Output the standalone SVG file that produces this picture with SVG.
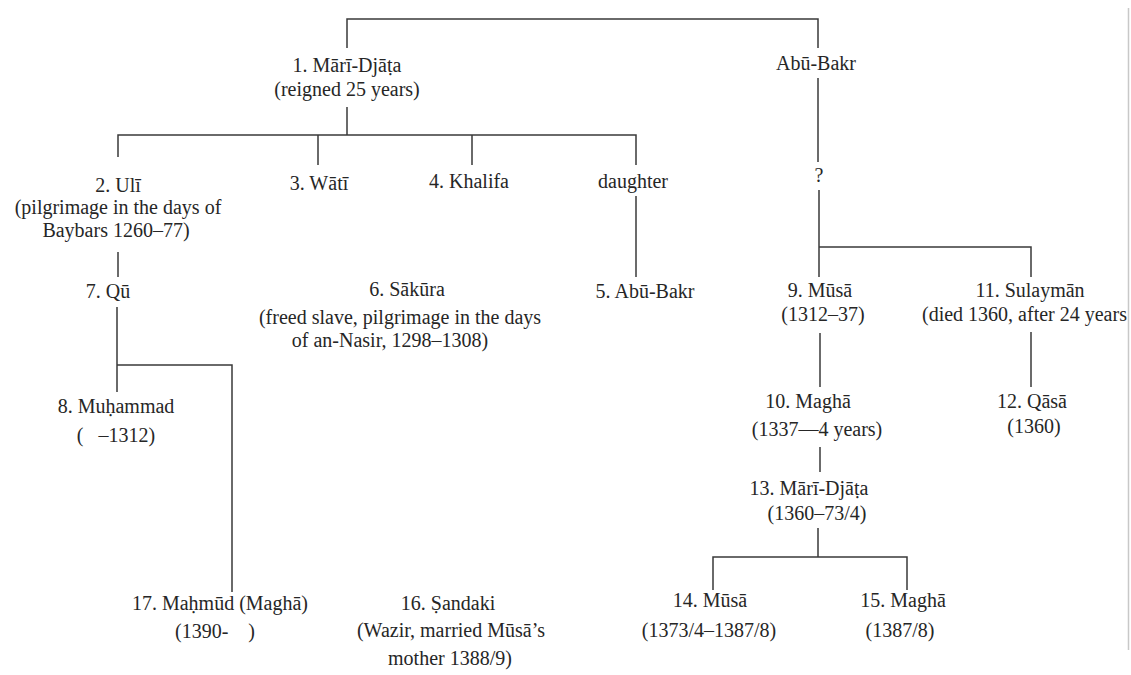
<svg xmlns="http://www.w3.org/2000/svg" width="1131" height="675" viewBox="0 0 1131 675">
<style>
text{font-family:"Liberation Serif","DejaVu Serif",serif;font-size:20px;fill:#262626;text-anchor:middle}
.l{stroke:#3a3a3a;stroke-width:1.5;fill:none}
.s{text-anchor:start}
</style>
<rect width="1131" height="675" fill="#fff"/>
<line x1="1128.5" y1="8" x2="1128.5" y2="650" stroke="#c8c8c8" stroke-width="1.5"/>
<g id="connectors">
<path class="l" d="M347 48V19H818V48"/>
<path class="l" d="M347 107V135"/>
<path class="l" d="M118 157V135H636V165M318 135V165M472 135V165"/>
<path class="l" d="M636 196V277"/>
<path class="l" d="M118 252V277"/>
<path class="l" d="M117 307V392M117 365H232V592"/>
<path class="l" d="M818 78V162"/>
<path class="l" d="M819 190V277M819 247H1031V277"/>
<path class="l" d="M820 333V387"/>
<path class="l" d="M820 447V472"/>
<path class="l" d="M1031 332V387"/>
<path class="l" d="M818 528V557M713 590V557H907V590"/>
</g>
<g id="n1"><text x="347" y="72">1. Mārī-Djāṭa</text><text x="347" y="96">(reigned 25 years)</text></g>
<g id="abubakr"><text x="816" y="70">Abū-Bakr</text></g>
<g id="n2"><text x="118" y="192">2. Ulī</text><text x="118" y="214">(pilgrimage in the days of</text><text x="116" y="237">Baybars 1260–77)</text></g>
<g id="n3"><text x="319" y="190">3. Wātī</text></g>
<g id="n4"><text x="469" y="188">4. Khalifa</text></g>
<g id="daughter"><text x="633" y="188">daughter</text></g>
<g id="unknown"><text x="819" y="182">?</text></g>
<g id="n7"><text x="108" y="298">7. Qū</text></g>
<g id="n6"><text x="407" y="296">6. Sākūra</text><text x="400" y="324">(freed slave, pilgrimage in the days</text><text x="390" y="347">of an-Nasir, 1298–1308)</text></g>
<g id="n5"><text x="645" y="298">5. Abū-Bakr</text></g>
<g id="n9"><text x="820" y="297">9. Mūsā</text><text x="823" y="321">(1312–37)</text></g>
<g id="n11"><text x="1030" y="297">11. Sulaymān</text><text class="s" x="922" y="321">(died 1360, after 24 years</text></g>
<g id="n8"><text x="116" y="413">8. Muḥammad</text><text x="116" y="442" xml:space="preserve">(   –1312)</text></g>
<g id="n10"><text x="808" y="408">10. Maghā</text><text x="817" y="436">(1337—4 years)</text></g>
<g id="n12"><text x="1032" y="408">12. Qāsā</text><text x="1034" y="433">(1360)</text></g>
<g id="n13"><text x="809" y="495">13. Mārī-Djāṭa</text><text x="817" y="520">(1360–73/4)</text></g>
<g id="n14"><text x="710" y="607">14. Mūsā</text><text x="709" y="637">(1373/4–1387/8)</text></g>
<g id="n15"><text x="903" y="607">15. Maghā</text><text x="900" y="637">(1387/8)</text></g>
<g id="n17"><text x="220" y="610">17. Maḥmūd (Maghā)</text><text x="215" y="638" xml:space="preserve">(1390-    )</text></g>
<g id="n16"><text x="448" y="610">16. Ṣandaki</text><text x="451" y="637">(Wazir, married Mūsā’s</text><text x="450" y="665">mother 1388/9)</text></g>
</svg>
